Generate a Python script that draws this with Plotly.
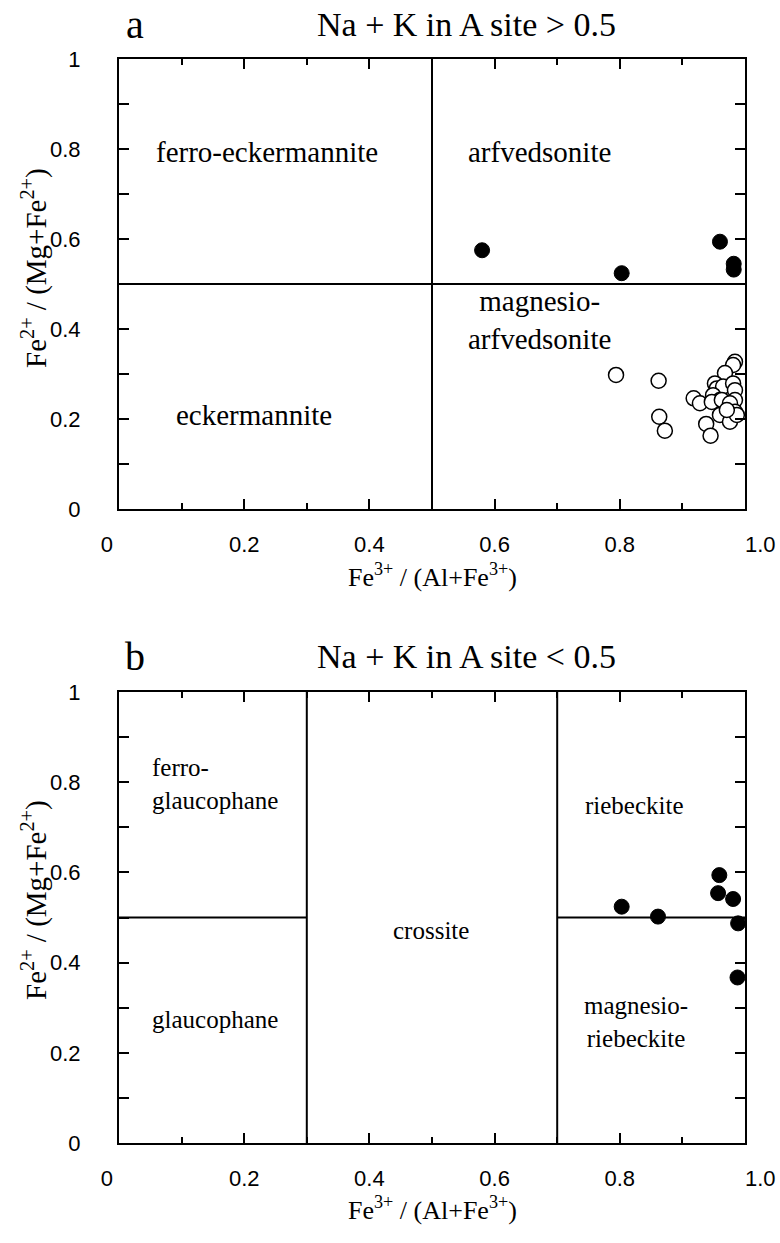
import plotly.graph_objects as go

# ---- data ----
# Panel a: Na + K in A site > 0.5
a_filled_x = [0.58, 0.803, 0.960, 0.982, 0.982]
a_filled_y = [0.575, 0.524, 0.594, 0.545, 0.532]
a_open_x = [0.794, 0.862, 0.863, 0.872, 0.918, 0.928, 0.938, 0.945, 0.984, 0.981,
            0.968, 0.952, 0.955, 0.965, 0.981, 0.984, 0.949, 0.960, 0.984, 0.947,
            0.963, 0.976, 0.960, 0.976, 0.984, 0.987, 0.971]
a_open_y = [0.298, 0.285, 0.205, 0.174, 0.246, 0.235, 0.189, 0.163, 0.327, 0.320,
            0.302, 0.279, 0.268, 0.272, 0.279, 0.264, 0.253, 0.242, 0.242, 0.238,
            0.242, 0.235, 0.209, 0.194, 0.216, 0.209, 0.220]
# Panel b: Na + K in A site < 0.5
b_filled_x = [0.803, 0.861, 0.959, 0.957, 0.981, 0.989, 0.988]
b_filled_y = [0.524, 0.502, 0.594, 0.554, 0.541, 0.487, 0.367]

NB = "\u00a0"
x_tickvals = [0, 0.2, 0.4, 0.6, 0.8, 1.0]
x_ticktext = ["0" + NB * 4, "0.2", "0.4", "0.6", "0.8", NB * 5 + "1.0"]
y_tickvals = [0, 0.2, 0.4, 0.6, 0.8, 1.0]
y_ticktext = ["0", "0.2", "0.4", "0.6", "0.8", "1"]

a_fields = ["ferro-eckermannite", "arfvedsonite", "magnesio-<br>arfvedsonite", "eckermannite"]
a_field_x = [0.236, 0.672, 0.672, 0.216]
a_field_y = [0.793, 0.793, 0.42, 0.209]
b_fields = ["ferro-<br>glaucophane", "glaucophane", "crossite", "riebeckite", "magnesio-<br>riebeckite"]
b_field_x = [0.05, 0.05, 0.498, 0.823, 0.826]
b_field_y = [0.796, 0.273, 0.472, 0.749, 0.268]
b_field_anchor = ["left", "left", "center", "center", "center"]

W, H = 780, 1243
SERIF = "Liberation Serif"
SANS = "Liberation Sans"

def px_x(p):
    return p / W

def px_y(p):
    return 1 - p / H

fig = go.Figure()

fig.add_trace(go.Scatter(x=a_open_x, y=a_open_y, mode="markers", xaxis="x", yaxis="y",
                         marker=dict(size=15, color="white", line=dict(color="black", width=1.5)),
                         showlegend=False, cliponaxis=False))
fig.add_trace(go.Scatter(x=a_filled_x, y=a_filled_y, mode="markers", xaxis="x", yaxis="y",
                         marker=dict(size=15, color="black", line=dict(color="black", width=1)),
                         showlegend=False, cliponaxis=False))
fig.add_trace(go.Scatter(x=b_filled_x, y=b_filled_y, mode="markers", xaxis="x2", yaxis="y2",
                         marker=dict(size=15, color="black", line=dict(color="black", width=1)),
                         showlegend=False, cliponaxis=False))

def xaxis_cfg(anchor):
    return dict(domain=[px_x(119), px_x(745)], range=[0, 1], anchor=anchor, automargin=False,
                showline=True, linecolor="black", linewidth=2, mirror="ticks",
                ticks="inside", ticklen=10, tickwidth=1.5, tickcolor="black",
                tickvals=x_tickvals, ticktext=x_ticktext,
                minor=dict(dtick=0.1, tick0=0, ticks="inside", ticklen=6, tickwidth=1.5, tickcolor="black"),
                showgrid=False, zeroline=False, ticklabelstandoff=15,
                tickfont=dict(family=SANS, size=22, color="black"))

def yaxis_cfg(anchor, top, bottom):
    return dict(domain=[px_y(bottom), px_y(top)], range=[0, 1], anchor=anchor, automargin=False,
                showline=True, linecolor="black", linewidth=2, mirror="ticks",
                ticks="inside", ticklen=10, tickwidth=1.5, tickcolor="black",
                tickvals=y_tickvals, ticktext=y_ticktext,
                minor=dict(dtick=0.1, tick0=0, ticks="inside", ticklen=10, tickwidth=1.5, tickcolor="black"),
                showgrid=False, zeroline=False, ticklabelstandoff=32,
                tickfont=dict(family=SANS, size=22, color="black"))

fig.update_layout(
    width=W, height=H, margin=dict(l=0, r=0, t=0, b=0, pad=0, autoexpand=False),
    paper_bgcolor="white", plot_bgcolor="white",
    xaxis=xaxis_cfg("y"), yaxis=yaxis_cfg("x", 59, 509),
    xaxis2=xaxis_cfg("y2"), yaxis2=yaxis_cfg("x2", 692, 1143),
)

line = dict(color="black", width=2)
# Panel a boundaries
fig.add_shape(type="line", xref="x", yref="y", x0=0.5, x1=0.5, y0=0, y1=1, line=line)
fig.add_shape(type="line", xref="x", yref="y", x0=0, x1=1, y0=0.5, y1=0.5, line=line)
# Panel b boundaries
fig.add_shape(type="line", xref="x2", yref="y2", x0=0.3, x1=0.3, y0=0, y1=1, line=line)
fig.add_shape(type="line", xref="x2", yref="y2", x0=0.7, x1=0.7, y0=0, y1=1, line=line)
fig.add_shape(type="line", xref="x2", yref="y2", x0=0, x1=0.3, y0=0.5, y1=0.5, line=line)
fig.add_shape(type="line", xref="x2", yref="y2", x0=0.7, x1=1, y0=0.5, y1=0.5, line=line)

ann = []
for t, x, y in zip(a_fields, a_field_x, a_field_y):
    ann.append(dict(text=t, x=x, y=y, xref="x", yref="y", showarrow=False,
                    xanchor="center", yanchor="middle",
                    font=dict(family=SERIF, size=29, color="black")))
for t, x, y, anc in zip(b_fields, b_field_x, b_field_y, b_field_anchor):
    ann.append(dict(text=t, x=x, y=y, xref="x2", yref="y2", showarrow=False, align=anc,
                    xanchor=anc, yanchor="middle",
                    font=dict(family=SERIF, size=25, color="black")))

# Panel letters and titles
for letter, title, ypx in [("a", "Na + K in A site > 0.5", 24), ("b", "Na + K in A site < 0.5", 656)]:
    ann.append(dict(text=letter, x=px_x(135), y=px_y(ypx), xref="paper", yref="paper",
                    xanchor="center", yanchor="middle",
                    showarrow=False, font=dict(family=SERIF, size=40, color="black")))
    ann.append(dict(text=title, x=px_x(466), y=px_y(ypx), xref="paper", yref="paper",
                    xanchor="center", yanchor="middle",
                    showarrow=False, font=dict(family=SERIF, size=34, color="black")))

# Axis titles
xt = "Fe<sup>3+</sup> / (Al+Fe<sup>3+</sup>)"
yt = "Fe<sup>2+</sup> / (Mg+Fe<sup>2+</sup>)"
for xy_px, yc in [(575, 268), (1208, 900)]:
    ann.append(dict(text=xt, x=px_x(432), y=px_y(xy_px), xref="paper", yref="paper",
                    xanchor="center", yanchor="middle",
                    showarrow=False, font=dict(family=SERIF, size=26, color="black")))
    ann.append(dict(text=yt, x=px_x(34), y=px_y(yc), xref="paper", yref="paper",
                    xanchor="center", yanchor="middle",
                    showarrow=False, textangle=-90, font=dict(family=SERIF, size=29, color="black")))

fig.update_layout(annotations=ann)
fig.write_html("out.html", config={"displayModeBar": False},
               post_script="document.body.style.margin='0';")
